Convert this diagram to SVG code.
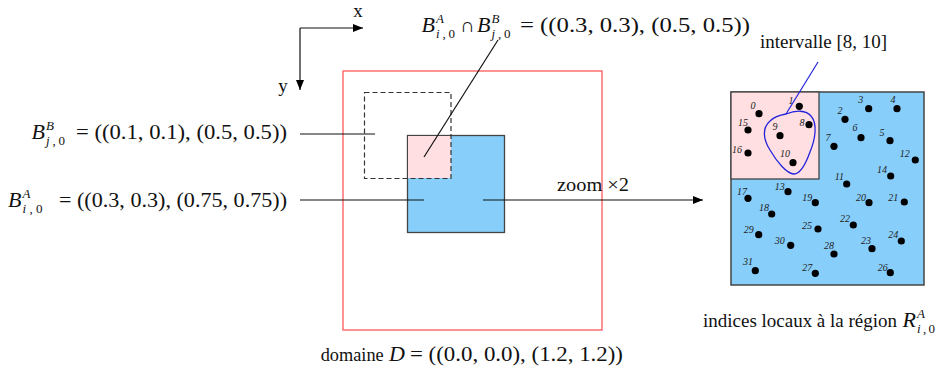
<svg xmlns="http://www.w3.org/2000/svg" width="940" height="373" viewBox="0 0 940 373">
<style>
.t{font-family:"Liberation Serif","Times New Roman",serif;font-size:19px;fill:#111}
.m{font-family:"Liberation Serif","Times New Roman",serif;font-size:20px;fill:#111}
.mi{font-family:"Liberation Serif","Times New Roman",serif;font-size:22px;font-style:italic;fill:#111}
.s{font-family:"Liberation Serif","Times New Roman",serif;font-size:13px;fill:#111}
.si{font-family:"Liberation Serif","Times New Roman",serif;font-size:13px;font-style:italic;fill:#111}
.n{font-family:"Liberation Serif","Times New Roman",serif;font-size:10px;font-style:italic;fill:#222;text-anchor:middle}
.dot{fill:#000}
.ln{stroke:#111;stroke-width:1.2;fill:none}
</style>
<defs>
<marker id="ah" viewBox="0 0 10 8" refX="10" refY="4" markerWidth="10" markerHeight="8" markerUnits="userSpaceOnUse" orient="auto">
<path d="M0,0 L10,4 L0,8 Z" fill="#000"/>
</marker>
</defs>

<g id="axes">
<line class="ln" x1="300" y1="28" x2="363" y2="28" marker-end="url(#ah)"/>
<line class="ln" x1="300" y1="28" x2="300" y2="90" marker-end="url(#ah)"/>
<text class="t" x="358" y="17" text-anchor="middle">x</text>
<text class="t" x="283" y="92" text-anchor="middle">y</text>
</g>

<g id="domain">
<rect x="343" y="71" width="259" height="259" fill="none" stroke="#ff6666" stroke-width="1.4"/>
<text class="t" x="320.7" y="360.7" textLength="63" lengthAdjust="spacingAndGlyphs">domaine</text>
<text class="mi" x="389" y="360.7">D</text>
<text class="m" x="410" y="360.7" textLength="213" lengthAdjust="spacingAndGlyphs">= ((0.0, 0.0), (1.2, 1.2))</text>
</g>

<g id="boxA">
<rect x="407.5" y="135.5" width="97" height="97" fill="#87cefa" stroke="#444" stroke-width="1.3"/>
</g>

<g id="intersection">
<rect x="408" y="136" width="43" height="42" fill="#ffdfe1"/>
</g>

<g id="boxB">
<rect x="364.5" y="92.5" width="86.5" height="86" fill="none" stroke="#333" stroke-width="1.2" stroke-dasharray="5,3"/>
</g>

<g id="labelB">
<text class="mi" x="31.5" y="139">B</text>
<text class="si" x="46" y="130">B</text>
<text class="s" x="46" y="145" textLength="19" lengthAdjust="spacing"><tspan font-style="italic">j</tspan>,0</text>
<text class="m" x="76" y="139" textLength="211" lengthAdjust="spacingAndGlyphs">= ((0.1, 0.1), (0.5, 0.5))</text>
</g>

<g id="labelA">
<text class="mi" x="8" y="206.5">B</text>
<text class="si" x="22.5" y="197.5">A</text>
<text class="s" x="22.5" y="212.5" textLength="20" lengthAdjust="spacing"><tspan font-style="italic">i</tspan>,0</text>
<text class="m" x="59" y="206.5" textLength="228" lengthAdjust="spacingAndGlyphs">= ((0.3, 0.3), (0.75, 0.75))</text>
</g>

<g id="labelInter">
<text class="mi" x="421.5" y="31.5">B</text>
<text class="si" x="436" y="22.5">A</text>
<text class="s" x="436" y="37.5" textLength="19" lengthAdjust="spacing"><tspan font-style="italic">i</tspan>,0</text>
<text class="m" x="460" y="31.5">∩</text>
<text class="mi" x="477" y="31.5">B</text>
<text class="si" x="491.5" y="22.5">B</text>
<text class="s" x="491.5" y="37.5" textLength="19" lengthAdjust="spacing"><tspan font-style="italic">j</tspan>,0</text>
<text class="m" x="520" y="31.5" textLength="230" lengthAdjust="spacingAndGlyphs">= ((0.3, 0.3), (0.5, 0.5))</text>
</g>

<g id="zoomlabel">
<text class="t" x="557" y="191" textLength="72" lengthAdjust="spacingAndGlyphs">zoom ×2</text>
</g>

<g id="region">
<rect x="731" y="92" width="193" height="193" fill="#87cefa" stroke="#444" stroke-width="1.5"/>
<rect x="731" y="92" width="88" height="87" fill="#ffdfe1" stroke="#444" stroke-width="1.3"/>
<g id="points">
<circle class="dot" cx="759" cy="113.7" r="3.6"/><text class="n" x="753" y="108.5">0</text>
<circle class="dot" cx="799.3" cy="106.3" r="3.6"/><text class="n" x="791" y="103.5">1</text>
<circle class="dot" cx="845" cy="119.3" r="3.6"/><text class="n" x="840" y="114.2">2</text>
<circle class="dot" cx="868.7" cy="108.7" r="3.6"/><text class="n" x="860.7" y="103.2">3</text>
<circle class="dot" cx="897" cy="108.7" r="3.6"/><text class="n" x="893" y="103.2">4</text>
<circle class="dot" cx="890" cy="140.7" r="3.6"/><text class="n" x="882" y="135.5">5</text>
<circle class="dot" cx="861" cy="137.7" r="3.6"/><text class="n" x="855" y="130.5">6</text>
<circle class="dot" cx="834" cy="146.3" r="3.6"/><text class="n" x="828" y="140.5">7</text>
<circle class="dot" cx="809" cy="124.7" r="3.6"/><text class="n" x="802" y="125.5">8</text>
<circle class="dot" cx="780" cy="135.7" r="3.6"/><text class="n" x="775" y="129.5">9</text>
<circle class="dot" cx="793" cy="162.7" r="3.6"/><text class="n" x="785" y="156.5">10</text>
<circle class="dot" cx="846.7" cy="184" r="3.6"/><text class="n" x="839.3" y="180.2">11</text>
<circle class="dot" cx="915.3" cy="160" r="3.6"/><text class="n" x="904.7" y="156.5">12</text>
<circle class="dot" cx="788" cy="191.7" r="3.6"/><text class="n" x="779.7" y="190.2">13</text>
<circle class="dot" cx="890.7" cy="176" r="3.6"/><text class="n" x="882" y="173.2">14</text>
<circle class="dot" cx="748" cy="130" r="3.6"/><text class="n" x="743" y="125.5">15</text>
<circle class="dot" cx="748" cy="153" r="3.6"/><text class="n" x="737" y="152.5">16</text>
<circle class="dot" cx="748" cy="198.3" r="3.6"/><text class="n" x="742" y="194.5">17</text>
<circle class="dot" cx="771.7" cy="214" r="3.6"/><text class="n" x="764" y="210.5">18</text>
<circle class="dot" cx="815.3" cy="202.7" r="3.6"/><text class="n" x="807.3" y="201.2">19</text>
<circle class="dot" cx="869" cy="202.7" r="3.6"/><text class="n" x="861" y="201.2">20</text>
<circle class="dot" cx="904.3" cy="202" r="3.6"/><text class="n" x="893.3" y="201.2">21</text>
<circle class="dot" cx="853.3" cy="225" r="3.6"/><text class="n" x="845" y="221.8">22</text>
<circle class="dot" cx="872" cy="248.7" r="3.6"/><text class="n" x="866" y="243.8">23</text>
<circle class="dot" cx="901.3" cy="241" r="3.6"/><text class="n" x="893.3" y="237.8">24</text>
<circle class="dot" cx="818" cy="229" r="3.6"/><text class="n" x="807" y="228.5">25</text>
<circle class="dot" cx="890.3" cy="272.7" r="3.6"/><text class="n" x="882.7" y="271.2">26</text>
<circle class="dot" cx="815.3" cy="273.3" r="3.6"/><text class="n" x="807.3" y="271.2">27</text>
<circle class="dot" cx="834" cy="254" r="3.6"/><text class="n" x="829" y="249.2">28</text>
<circle class="dot" cx="758.7" cy="234.7" r="3.6"/><text class="n" x="748.7" y="232.5">29</text>
<circle class="dot" cx="790.7" cy="245.3" r="3.6"/><text class="n" x="779.7" y="244.2">30</text>
<circle class="dot" cx="755.3" cy="270.7" r="3.6"/><text class="n" x="748" y="265.2">31</text>
</g>
<path d="M786,114 C796,110 806,110 811,116 C818,124 815,140 810,152 C806,163 800,174 794,174 C787,174 777,162 770,150 C763,139 762,128 770,121 C775,116 780,115 786,114 Z" fill="none" stroke="#2222dd" stroke-width="1.3"/>
<text class="t" x="703" y="327" textLength="194" lengthAdjust="spacingAndGlyphs">indices locaux à la région</text>
<text class="mi" x="902.5" y="327">R</text>
<text class="si" x="917" y="317.5">A</text>
<text class="s" x="917" y="332.5" textLength="18" lengthAdjust="spacing"><tspan font-style="italic">i</tspan>,0</text>
</g>

<g id="intervalLabel">
<text class="t" x="760" y="48" textLength="127" lengthAdjust="spacingAndGlyphs">intervalle [8, 10]</text>
</g>

<g id="connectors">
<line class="ln" x1="300" y1="134" x2="375" y2="134"/>
<line class="ln" x1="300" y1="200" x2="424" y2="200"/>
<line class="ln" x1="483" y1="200" x2="703" y2="200" marker-end="url(#ah)"/>
<line class="ln" x1="498" y1="40" x2="424" y2="157"/>
<line x1="818" y1="62" x2="786" y2="114" stroke="#2222dd" stroke-width="1.2"/>
</g>
</svg>
